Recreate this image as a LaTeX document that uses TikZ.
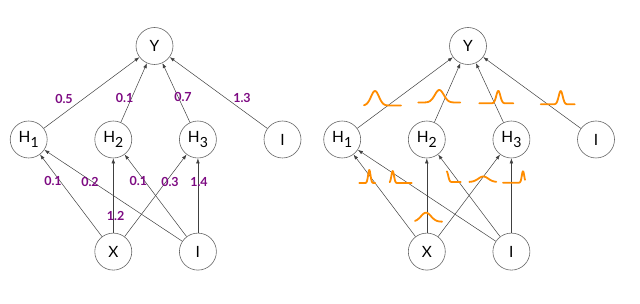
\documentclass[tikz,border=0pt]{standalone}
\usepackage{fontspec}
\setmainfont{Lato}
\usetikzlibrary{positioning,arrows.meta}
\definecolor{wpurple}{RGB}{125,10,130}
\definecolor{gorange}{RGB}{255,140,0}
\newcommand{\hsub}[1]{\raisebox{-0.55ex}{\fontsize{14}{14}\selectfont #1}}

\begin{document}
\begin{tikzpicture}[x=1pt,y=-1pt,node distance=47pt,>={Latex[length=5pt,width=3.6pt]},
unit/.style={draw=black!60,line width=0.6pt,fill=white,circle,minimum size=37pt,inner sep=0pt,font=\fontsize{15.5}{15.5}\selectfont},
wt/.style={text=wpurple,inner sep=0pt,font=\bfseries\fontsize{12.5}{13}\selectfont},
gauss/.style={draw=gorange,line width=1.8pt,line cap=round,line join=round},
link/.style={->,draw=black!75,line width=0.5pt}]
\useasboundingbox (0,0) rectangle (640,304);
\foreach \p/\dx in {l/0,r/313.5}{
  \node[unit] (\p y) at (154.5+\dx,46) {Y};
  \node[unit] (\p h1) at (28.7+\dx,139.5) {H\hsub{1}};
  \node[unit,right=of \p h1] (\p h2) {H\hsub{2}};
  \node[unit,right=of \p h2] (\p h3) {H\hsub{3}};
  \node[unit,right=of \p h3] (\p i) {I};
  \node[unit,below=74.5pt of \p h2] (\p x) {X};
  \node[unit,right=of \p x] (\p ib) {I};
  \foreach \h in {h1,h2,h3,i} \draw[link] (\p\h) -- (\p y);
  \foreach \a in {x,ib} \foreach \h in {h1,h2,h3} \draw[link] (\p\a) -- (\p\h);
}
\node[wt] (w1) at (64,99) {0.5};
\node[wt] (w2) at (124.7,98) {0.1};
\node[wt] (w3) at (183,97) {0.7};
\node[wt] (w4) at (242,98) {1.3};
\node[wt] (w5) at (53,181) {0.1};
\node[wt] (w6) at (90,182) {0.2};
\node[wt] (w7) at (138.3,181) {0.1};
\node[wt] (w8) at (170,182) {0.3};
\node[wt] (w9) at (199,182) {1.4};
\node[wt] (w10) at (115.7,216) {1.2};
\foreach \px/\py/\a/\b/\s/\hh in {375/105.5/-11/26/4/14.5, 439.3/102.5/-21/21/4.5/12.5,
  498.3/103.3/-19/15/2/12.5, 560.7/104.3/-20/14/2/13.3,
  369.3/183/-10/6/1.2/13, 392.7/183/-3/19/1.3/12, 446.7/182/0/14/1.5/10.5,
  483.3/182/-14/13/5/5.5, 523/182.7/-20/2/1.2/11.5, 426/221.7/-11/16/5/9}
  \draw[gauss,shift={(\px,\py)}] plot[domain=\a:\b,samples=60,smooth] (\x,{-\hh*exp(-(\x)*(\x)/(2*\s*\s))});
\end{tikzpicture}
\end{document}
